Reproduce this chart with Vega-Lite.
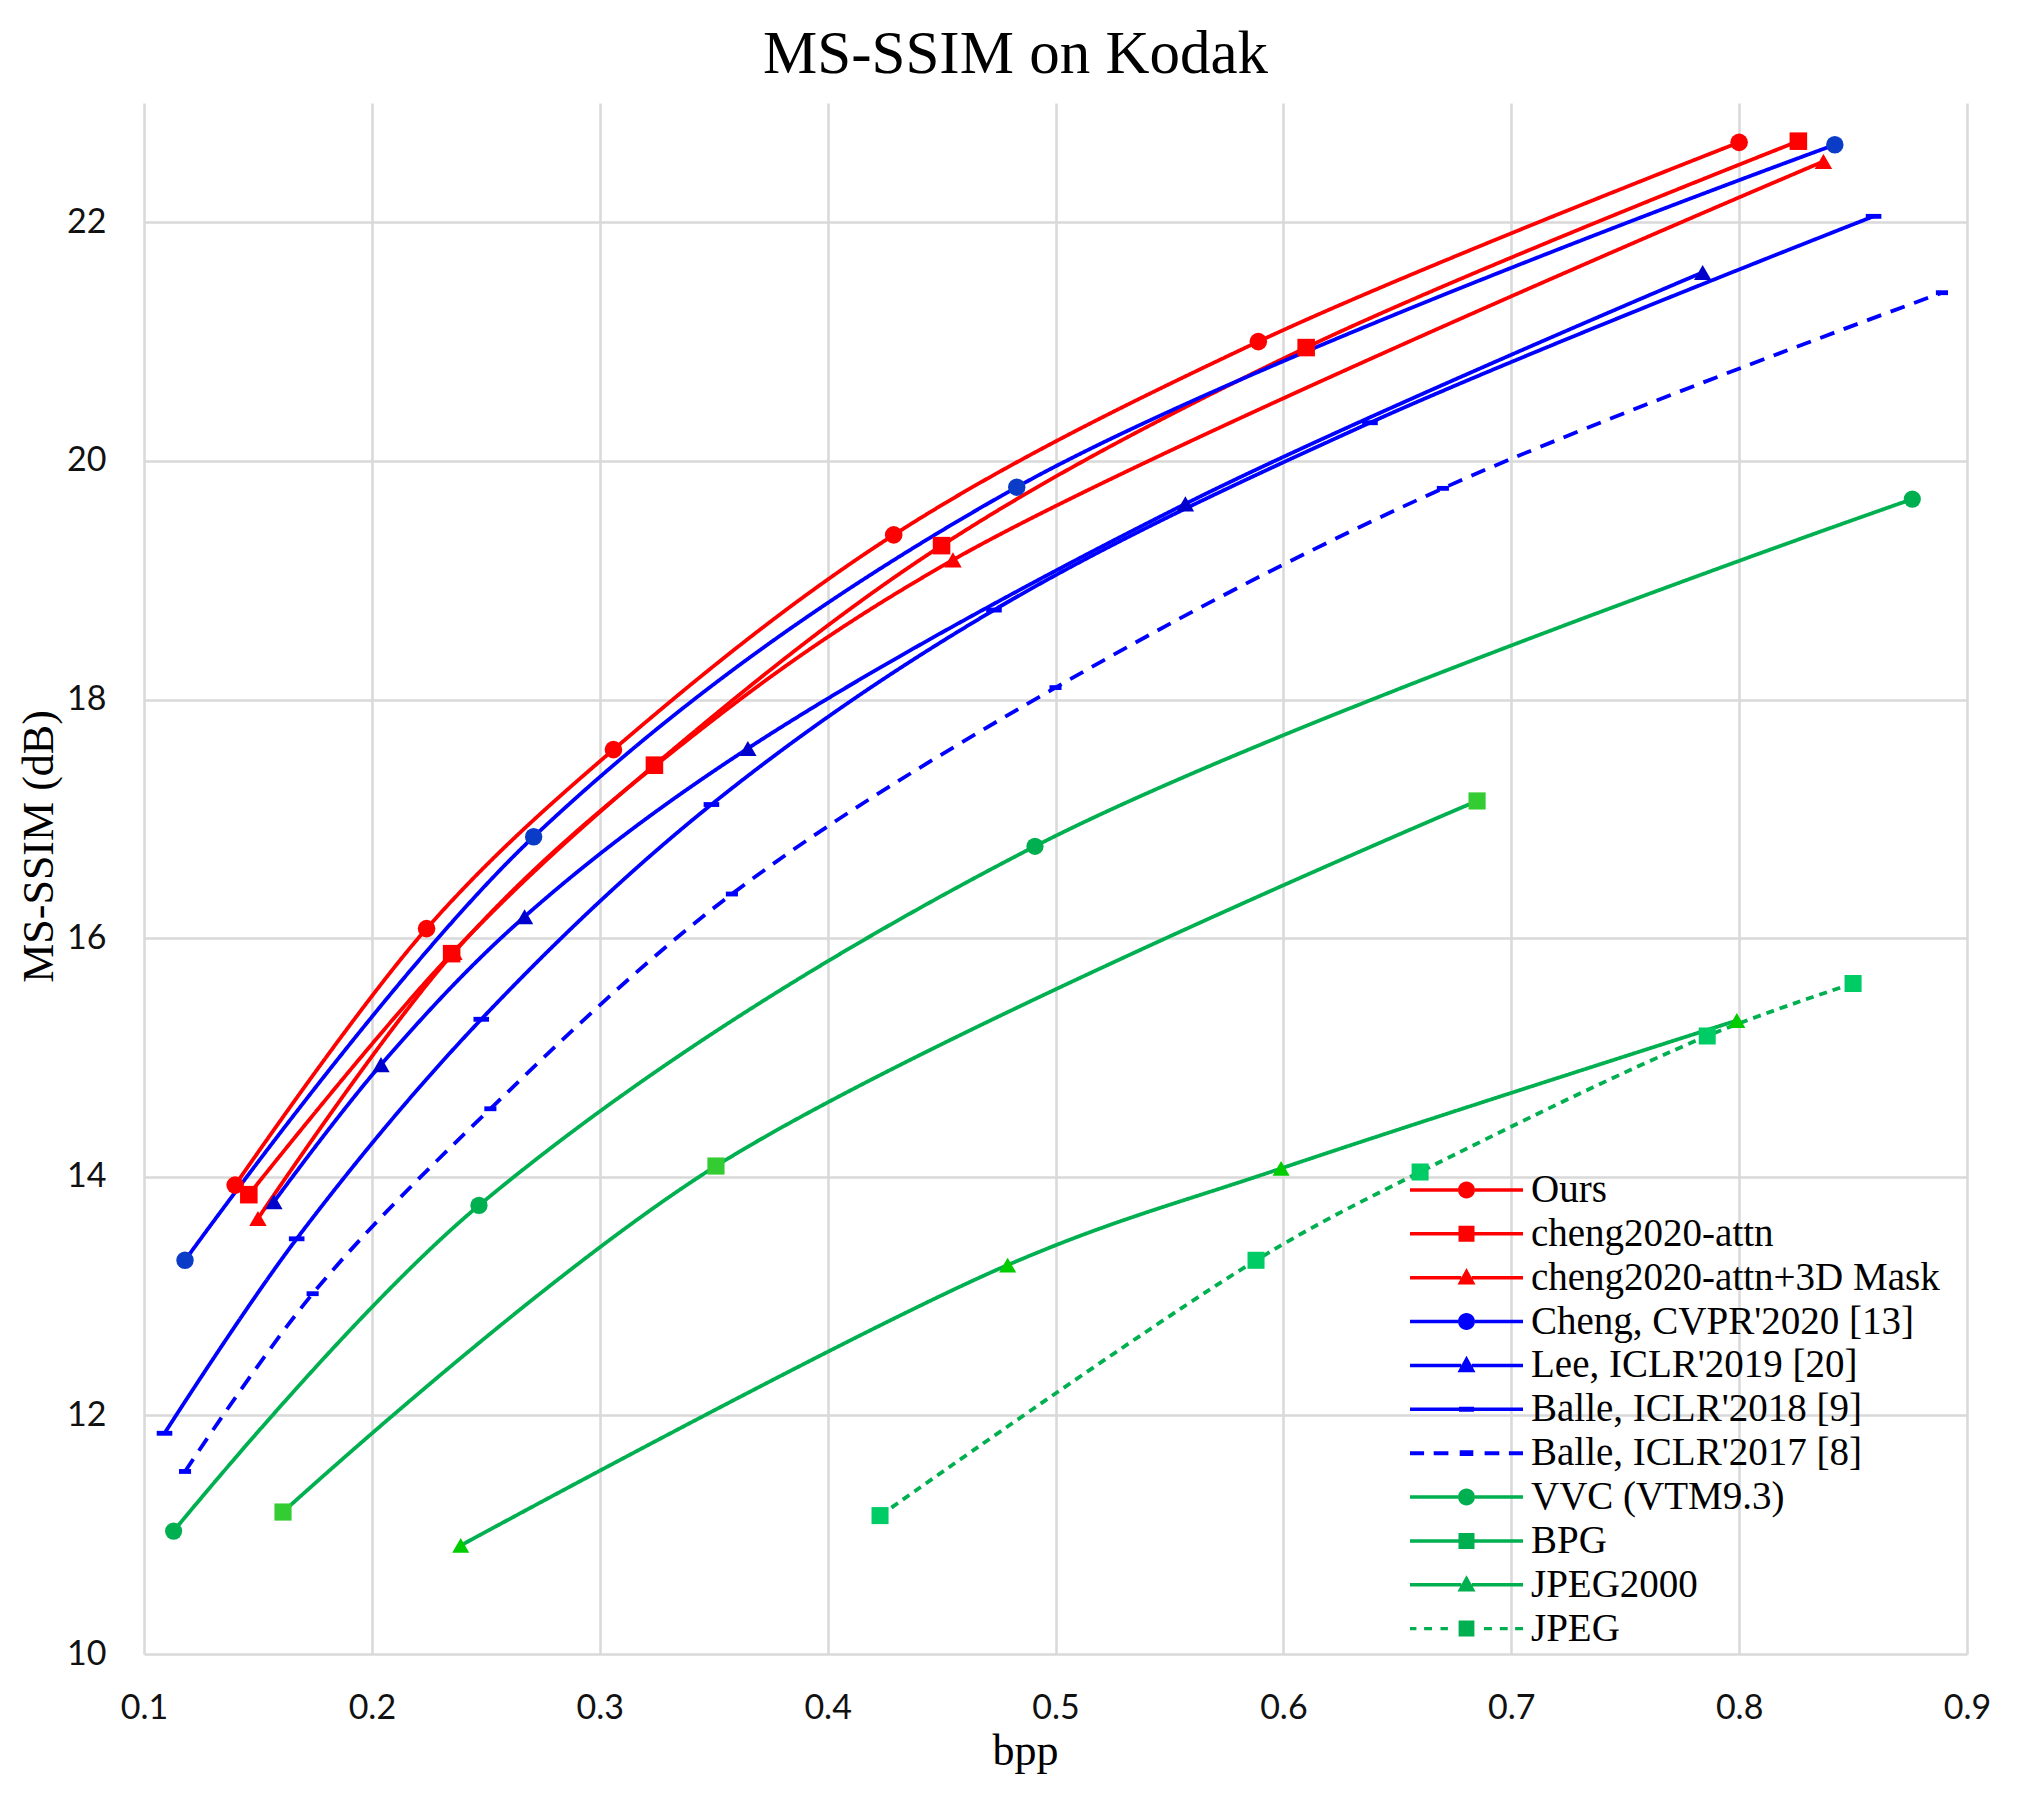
{
  "$schema": "https://vega.github.io/schema/vega-lite/v6.json",
  "autosize": {"type": "none"},
  "width": 1823,
  "height": 1551,
  "padding": {"left": 144, "top": 103, "right": 55, "bottom": 146},
  "background": "white",
  "title": {
    "text": "MS-SSIM on Kodak",
    "font": "Liberation Serif",
    "fontSize": 61,
    "fontWeight": "normal",
    "color": "#000000",
    "anchor": "middle",
    "baseline": "alphabetic",
    "offset": 31,
    "dx": -40,
    "dy": 62
  },
  "data": {
    "values": [
      {"method": "Ours", "bpp": 0.140, "msssim": 13.93},
      {"method": "Ours", "bpp": 0.224, "msssim": 16.08},
      {"method": "Ours", "bpp": 0.306, "msssim": 17.58},
      {"method": "Ours", "bpp": 0.429, "msssim": 19.38},
      {"method": "Ours", "bpp": 0.589, "msssim": 21.00},
      {"method": "Ours", "bpp": 0.800, "msssim": 22.67},
      {"method": "cheng2020-attn", "bpp": 0.146, "msssim": 13.85},
      {"method": "cheng2020-attn", "bpp": 0.235, "msssim": 15.87},
      {"method": "cheng2020-attn", "bpp": 0.324, "msssim": 17.45},
      {"method": "cheng2020-attn", "bpp": 0.450, "msssim": 19.29},
      {"method": "cheng2020-attn", "bpp": 0.610, "msssim": 20.95},
      {"method": "cheng2020-attn", "bpp": 0.826, "msssim": 22.68},
      {"method": "cheng2020-attn+3D Mask", "bpp": 0.150, "msssim": 13.65},
      {"method": "cheng2020-attn+3D Mask", "bpp": 0.236, "msssim": 15.88},
      {"method": "cheng2020-attn+3D Mask", "bpp": 0.324, "msssim": 17.44},
      {"method": "cheng2020-attn+3D Mask", "bpp": 0.455, "msssim": 19.17},
      {"method": "cheng2020-attn+3D Mask", "bpp": 0.837, "msssim": 22.51},
      {"method": "Cheng, CVPR'2020 [13]", "bpp": 0.118, "msssim": 13.30},
      {"method": "Cheng, CVPR'2020 [13]", "bpp": 0.271, "msssim": 16.85},
      {"method": "Cheng, CVPR'2020 [13]", "bpp": 0.483, "msssim": 19.78},
      {"method": "Cheng, CVPR'2020 [13]", "bpp": 0.842, "msssim": 22.65},
      {"method": "Lee, ICLR'2019 [20]", "bpp": 0.157, "msssim": 13.79},
      {"method": "Lee, ICLR'2019 [20]", "bpp": 0.204, "msssim": 14.94},
      {"method": "Lee, ICLR'2019 [20]", "bpp": 0.267, "msssim": 16.18},
      {"method": "Lee, ICLR'2019 [20]", "bpp": 0.365, "msssim": 17.59},
      {"method": "Lee, ICLR'2019 [20]", "bpp": 0.557, "msssim": 19.64},
      {"method": "Lee, ICLR'2019 [20]", "bpp": 0.784, "msssim": 21.58},
      {"method": "Balle, ICLR'2018 [9]", "bpp": 0.109, "msssim": 11.85},
      {"method": "Balle, ICLR'2018 [9]", "bpp": 0.167, "msssim": 13.48},
      {"method": "Balle, ICLR'2018 [9]", "bpp": 0.248, "msssim": 15.32},
      {"method": "Balle, ICLR'2018 [9]", "bpp": 0.349, "msssim": 17.12},
      {"method": "Balle, ICLR'2018 [9]", "bpp": 0.473, "msssim": 18.75},
      {"method": "Balle, ICLR'2018 [9]", "bpp": 0.638, "msssim": 20.32},
      {"method": "Balle, ICLR'2018 [9]", "bpp": 0.859, "msssim": 22.05},
      {"method": "Balle, ICLR'2017 [8]", "bpp": 0.118, "msssim": 11.53},
      {"method": "Balle, ICLR'2017 [8]", "bpp": 0.174, "msssim": 13.02},
      {"method": "Balle, ICLR'2017 [8]", "bpp": 0.252, "msssim": 14.57},
      {"method": "Balle, ICLR'2017 [8]", "bpp": 0.358, "msssim": 16.37},
      {"method": "Balle, ICLR'2017 [8]", "bpp": 0.500, "msssim": 18.10},
      {"method": "Balle, ICLR'2017 [8]", "bpp": 0.670, "msssim": 19.77},
      {"method": "Balle, ICLR'2017 [8]", "bpp": 0.889, "msssim": 21.41},
      {"method": "VVC (VTM9.3)", "bpp": 0.113, "msssim": 11.03},
      {"method": "VVC (VTM9.3)", "bpp": 0.247, "msssim": 13.76},
      {"method": "VVC (VTM9.3)", "bpp": 0.491, "msssim": 16.77},
      {"method": "VVC (VTM9.3)", "bpp": 0.876, "msssim": 19.68},
      {"method": "BPG", "bpp": 0.161, "msssim": 11.19},
      {"method": "BPG", "bpp": 0.351, "msssim": 14.09},
      {"method": "BPG", "bpp": 0.685, "msssim": 17.15},
      {"method": "JPEG2000", "bpp": 0.239, "msssim": 10.91},
      {"method": "JPEG2000", "bpp": 0.479, "msssim": 13.26},
      {"method": "JPEG2000", "bpp": 0.599, "msssim": 14.07},
      {"method": "JPEG2000", "bpp": 0.799, "msssim": 15.31},
      {"method": "JPEG", "bpp": 0.423, "msssim": 11.16},
      {"method": "JPEG", "bpp": 0.588, "msssim": 13.30},
      {"method": "JPEG", "bpp": 0.660, "msssim": 14.04},
      {"method": "JPEG", "bpp": 0.786, "msssim": 15.18},
      {"method": "JPEG", "bpp": 0.850, "msssim": 15.62}
    ]
  },
  "encoding": {
    "x": {
      "field": "bpp",
      "type": "quantitative",
      "scale": {"domain": [0.1, 0.9], "nice": false, "zero": false},
      "axis": {
        "values": [0.1, 0.2, 0.3, 0.4, 0.5, 0.6, 0.7, 0.8, 0.9],
        "format": ".1f",
        "labelFlush": false,
        "title": "bpp",
        "titleX": 881,
        "titleY": 97,
        "titleAlign": "center",
        "titleBaseline": "middle",
        "labelPadding": 37
      }
    },
    "y": {
      "field": "msssim",
      "type": "quantitative",
      "scale": {"domain": [10, 23], "nice": false, "zero": false},
      "axis": {
        "values": [10, 12, 14, 16, 18, 20, 22],
        "format": "d",
        "labelFlush": false,
        "title": "MS-SSIM (dB)",
        "titleAngle": -90,
        "titleX": -105,
        "titleY": 743,
        "titleAlign": "center",
        "titleBaseline": "middle",
        "labelPadding": 38
      }
    }
  },
  "layer": [
    {
      "mark": {"type": "line", "interpolate": "catmull-rom", "strokeWidth": 3.8},
      "encoding": {
        "stroke": {
          "field": "method",
          "type": "nominal",
          "legend": null,
          "scale": {
            "domain": ["Ours", "cheng2020-attn", "cheng2020-attn+3D Mask", "Cheng, CVPR'2020 [13]", "Lee, ICLR'2019 [20]", "Balle, ICLR'2018 [9]", "Balle, ICLR'2017 [8]", "VVC (VTM9.3)", "BPG", "JPEG2000", "JPEG"],
            "range": ["#FF0000", "#FF0000", "#FF0000", "#0000FF", "#0000FF", "#0000FF", "#0000FF", "#00B050", "#00B050", "#00B050", "#00B050"]
          }
        },
        "strokeDash": {
          "field": "method",
          "type": "nominal",
          "legend": null,
          "scale": {
            "domain": ["Ours", "cheng2020-attn", "cheng2020-attn+3D Mask", "Cheng, CVPR'2020 [13]", "Lee, ICLR'2019 [20]", "Balle, ICLR'2018 [9]", "Balle, ICLR'2017 [8]", "VVC (VTM9.3)", "BPG", "JPEG2000", "JPEG"],
            "range": [[1, 0], [1, 0], [1, 0], [1, 0], [1, 0], [1, 0], [15, 10], [1, 0], [1, 0], [1, 0], [8, 6]]
          }
        }
      }
    },
    {
      "mark": {"type": "point", "filled": true, "opacity": 1, "strokeWidth": 0},
      "encoding": {
        "fill": {
          "field": "method",
          "type": "nominal",
          "legend": null,
          "scale": {
            "domain": ["Ours", "cheng2020-attn", "cheng2020-attn+3D Mask", "Cheng, CVPR'2020 [13]", "Lee, ICLR'2019 [20]", "Balle, ICLR'2018 [9]", "Balle, ICLR'2017 [8]", "VVC (VTM9.3)", "BPG", "JPEG2000", "JPEG"],
            "range": ["#FF0000", "#FF0000", "#FF0000", "#0B3CC8", "#0000CC", "#0000FF", "#0000FF", "#00B050", "#33CC33", "#00CC00", "#00CC66"]
          }
        },
        "shape": {
          "field": "method",
          "type": "nominal",
          "legend": null,
          "scale": {
            "domain": ["Ours", "cheng2020-attn", "cheng2020-attn+3D Mask", "Cheng, CVPR'2020 [13]", "Lee, ICLR'2019 [20]", "Balle, ICLR'2018 [9]", "Balle, ICLR'2017 [8]", "VVC (VTM9.3)", "BPG", "JPEG2000", "JPEG"],
            "range": ["circle", "square", "triangle-up", "circle", "triangle-up", "M-0.9,-0.28H0.9V0.28H-0.9Z", "M-0.7,-0.28H0.7V0.28H-0.7Z", "circle", "square", "triangle-up", "square"]
          }
        },
        "size": {
          "field": "method",
          "type": "nominal",
          "legend": null,
          "scale": {
            "domain": ["Ours", "cheng2020-attn", "cheng2020-attn+3D Mask", "Cheng, CVPR'2020 [13]", "Lee, ICLR'2019 [20]", "Balle, ICLR'2018 [9]", "Balle, ICLR'2017 [8]", "VVC (VTM9.3)", "BPG", "JPEG2000", "JPEG"],
            "range": [310, 290, 400, 310, 400, 310, 310, 310, 290, 400, 290]
          }
        }
      }
    },
    {
      "mark": {"type": "point", "filled": true, "opacity": 0, "size": 1, "strokeWidth": 0},
      "encoding": {
        "fill": {
          "field": "method",
          "type": "nominal",
          "scale": {
            "domain": ["Ours", "cheng2020-attn", "cheng2020-attn+3D Mask", "Cheng, CVPR'2020 [13]", "Lee, ICLR'2019 [20]", "Balle, ICLR'2018 [9]", "Balle, ICLR'2017 [8]", "VVC (VTM9.3)", "BPG", "JPEG2000", "JPEG"],
            "range": ["#FF0000", "#FF0000", "#FF0000", "#0000FF", "#0000FF", "#0000FF", "#0000FF", "#00B050", "#00B050", "#00B050", "#00B050"]
          },
          "legend": {
            "orient": "none",
            "legendX": 1266,
            "legendY": 1067,
            "title": null,
            "padding": 0,
            "symbolSize": 1600,
            "symbolOpacity": 1,
            "symbolStrokeWidth": 0,
            "labelFont": "Liberation Serif",
            "labelFontSize": 39,
            "labelColor": "#000000",
            "labelOffset": 81,
            "labelLimit": 0,
            "rowPadding": 3.86,
            "encode": {"symbols": {"update": {"opacity": {"value": 1}, "size": {"value": 1600}}}}
          }
        },
        "shape": {
          "field": "method",
          "type": "nominal",
          "scale": {
            "domain": ["Ours", "cheng2020-attn", "cheng2020-attn+3D Mask", "Cheng, CVPR'2020 [13]", "Lee, ICLR'2019 [20]", "Balle, ICLR'2018 [9]", "Balle, ICLR'2017 [8]", "VVC (VTM9.3)", "BPG", "JPEG2000", "JPEG"],
            "range": [
              "M-1,-0.0875H1.4V0.0875H-1Z M2.25,-0.0875H4.65V0.0875H2.25Z M1.4,0A0.425,0.425 0 1,1 2.25,0A0.425,0.425 0 1,1 1.4,0Z",
              "M-1,-0.0875H1.425V0.0875H-1Z M2.225,-0.0875H4.65V0.0875H2.225Z M1.425,-0.4H2.225V0.4H1.425Z",
              "M-1,-0.0875H1.56V0.0875H-1Z M2.09,-0.0875H4.65V0.0875H2.09Z M1.825,-0.48L2.275,0.34H1.375Z",
              "M-1,-0.0875H1.4V0.0875H-1Z M2.25,-0.0875H4.65V0.0875H2.25Z M1.4,0A0.425,0.425 0 1,1 2.25,0A0.425,0.425 0 1,1 1.4,0Z",
              "M-1,-0.0875H1.56V0.0875H-1Z M2.09,-0.0875H4.65V0.0875H2.09Z M1.825,-0.48L2.275,0.34H1.375Z",
              "M-1,-0.0875H1.45V0.0875H-1Z M1.45,-0.125H2.2V0.125H1.45Z M2.2,-0.0875H4.65V0.0875H2.2Z",
              "M-1,-0.1H-0.295V0.1H-1Z M0.185,-0.1H0.92V0.1H0.185Z M1.485,-0.14H2.165V0.14H1.485Z M2.73,-0.1H3.465V0.1H2.73Z M3.945,-0.1H4.65V0.1H3.945Z",
              "M-1,-0.0875H1.4V0.0875H-1Z M2.25,-0.0875H4.65V0.0875H2.25Z M1.4,0A0.425,0.425 0 1,1 2.25,0A0.425,0.425 0 1,1 1.4,0Z",
              "M-1,-0.0875H1.425V0.0875H-1Z M2.225,-0.0875H4.65V0.0875H2.225Z M1.425,-0.4H2.225V0.4H1.425Z",
              "M-1,-0.0875H1.56V0.0875H-1Z M2.09,-0.0875H4.65V0.0875H2.09Z M1.825,-0.48L2.275,0.34H1.375Z",
              "M-1,-0.08H-0.68V0.08H-1Z M-0.295,-0.08H0.1V0.08H-0.295Z M0.525,-0.08H0.895V0.08H0.525Z M1.43,-0.4H2.22V0.4H1.43Z M2.7,-0.08H3.095V0.08H2.7Z M3.49,-0.08H3.885V0.08H3.49Z M4.255,-0.08H4.65V0.08H4.255Z"
            ]
          },
          "legend": {
            "orient": "none",
            "legendX": 1266,
            "legendY": 1067,
            "title": null,
            "padding": 0,
            "symbolSize": 1600,
            "symbolOpacity": 1,
            "symbolStrokeWidth": 0,
            "labelFont": "Liberation Serif",
            "labelFontSize": 39,
            "labelColor": "#000000",
            "labelOffset": 81,
            "labelLimit": 0,
            "rowPadding": 3.86,
            "encode": {"symbols": {"update": {"opacity": {"value": 1}, "size": {"value": 1600}}}}
          }
        }
      }
    }
  ],
  "resolve": {
    "scale": {"fill": "independent", "shape": "independent"}
  },
  "config": {
    "view": {"stroke": null},
    "axis": {
      "grid": true,
      "gridColor": "#D9D9D9",
      "gridWidth": 2.5,
      "gridOpacity": 1,
      "domain": false,
      "ticks": false,
      "labelFont": "Lato",
      "labelFontSize": 34,
      "labelColor": "#111111",
      "titleFont": "Liberation Serif",
      "titleFontSize": 44,
      "titleFontWeight": "normal",
      "titleColor": "#000000"
    }
  }
}
